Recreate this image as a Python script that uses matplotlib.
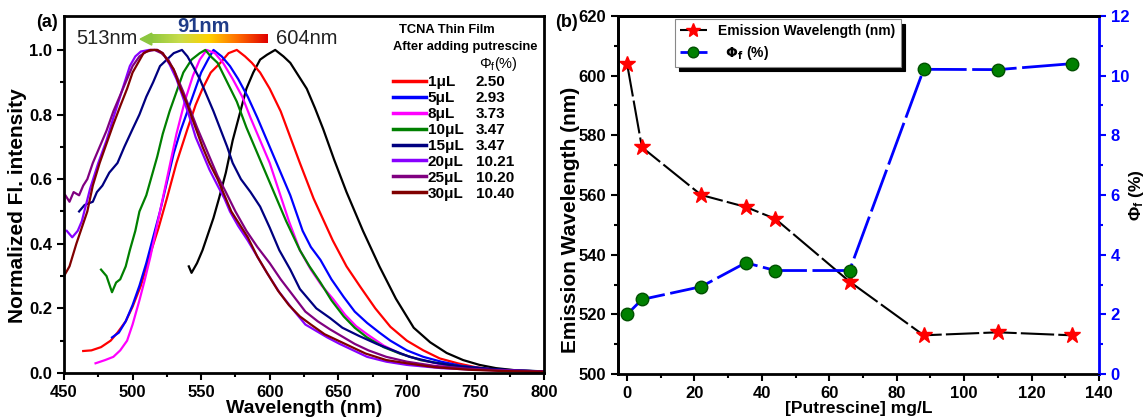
import matplotlib
matplotlib.use("Agg")
import matplotlib.pyplot as plt
import numpy as np
from matplotlib.colors import LinearSegmentedColormap
from matplotlib.lines import Line2D

plt.rcParams['font.family'] = ['Liberation Sans', 'DejaVu Sans']
plt.rcParams['font.weight'] = 'bold'
plt.rcParams['axes.labelweight'] = 'bold'
plt.rcParams['mathtext.default'] = 'regular'

# ---- panel (a): normalized spectra ----
wl_0 = [541, 543, 547, 551, 555, 559, 563, 568, 573, 578, 583, 588, 593, 598, 604, 610, 615, 621, 627, 633,
        639, 647, 656, 668, 680, 692, 705, 717, 729, 741, 753, 765, 780, 800]
fl_0 = [0.33, 0.31, 0.34, 0.38, 0.43, 0.48, 0.54, 0.62, 0.72, 0.80, 0.88, 0.93, 0.97, 0.985, 1.0, 0.98, 0.96,
        0.92, 0.88, 0.82, 0.755, 0.66, 0.56, 0.44, 0.33, 0.23, 0.14, 0.095, 0.062, 0.04, 0.025, 0.015, 0.008, 0.004]

wl_1 = [464, 470, 477, 484, 489, 495, 500, 506, 513, 519, 525, 532, 540, 546, 551, 557, 564, 570, 576, 582, 587,
        593, 600, 608, 615, 622, 632, 646, 656, 666, 677, 688, 700, 712, 724, 737, 750, 765, 780, 800]
fl_1 = [0.068, 0.07, 0.08, 0.10, 0.125, 0.16, 0.205, 0.27, 0.37, 0.45, 0.54, 0.65, 0.755, 0.83, 0.88, 0.93, 0.96,
        0.99, 1.0, 0.98, 0.96, 0.93, 0.88, 0.81, 0.73, 0.65, 0.54, 0.41, 0.33, 0.267, 0.2, 0.143, 0.10, 0.07,
        0.045, 0.03, 0.018, 0.01, 0.006, 0.004]

wl_5 = [485, 490, 495, 500, 505, 510, 515, 520, 525, 530, 535, 540, 545, 550, 555, 559, 565, 571, 577, 584, 591,
        598, 606, 615, 624, 630, 637, 645, 654, 662, 671, 680, 688, 700, 712, 725, 740, 760, 780, 800]
fl_5 = [0.11, 0.125, 0.16, 0.21, 0.27, 0.34, 0.42, 0.50, 0.59, 0.68, 0.75, 0.81, 0.87, 0.93, 0.97, 1.0, 0.98,
        0.95, 0.91, 0.855, 0.79, 0.72, 0.64, 0.55, 0.44, 0.39, 0.35, 0.29, 0.235, 0.19, 0.155, 0.125, 0.10,
        0.07, 0.05, 0.035, 0.022, 0.012, 0.007, 0.004]

wl_8 = [473, 480, 486, 491, 496, 500, 505, 509, 513, 517, 521, 526, 532, 538, 544, 549, 554, 560, 566, 573, 580,
        586, 593, 600, 607, 614, 622, 630, 638, 646, 655, 663, 671, 683, 695, 710, 730, 750, 775, 800]
fl_8 = [0.03, 0.04, 0.05, 0.07, 0.10, 0.15, 0.225, 0.29, 0.36, 0.44, 0.52, 0.62, 0.74, 0.84, 0.92, 0.97, 1.0,
        0.99, 0.96, 0.91, 0.855, 0.79, 0.72, 0.65, 0.56, 0.47, 0.38, 0.32, 0.27, 0.23, 0.18, 0.145, 0.12, 0.085,
        0.06, 0.04, 0.022, 0.012, 0.006, 0.004]

wl_10 = [477, 481, 485, 488, 491, 495, 498, 502, 505, 510, 514, 518, 522, 527, 532, 537, 543, 549, 553, 557, 562,
         569, 576, 583, 591, 597, 603, 612, 622, 629, 637, 645, 654, 662, 671, 683, 695, 710, 730, 760, 800]
fl_10 = [0.32, 0.30, 0.25, 0.28, 0.29, 0.33, 0.38, 0.44, 0.50, 0.55, 0.61, 0.67, 0.74, 0.81, 0.87, 0.93, 0.97,
         0.99, 1.0, 0.98, 0.96, 0.90, 0.84, 0.76, 0.68, 0.62, 0.56, 0.47, 0.38, 0.33, 0.28, 0.225, 0.175, 0.14,
         0.11, 0.08, 0.06, 0.04, 0.025, 0.01, 0.005]

wl_15 = [461, 465, 471, 474, 478, 483, 489, 494, 500, 505, 510, 515, 520, 525, 530, 536, 540, 544, 549, 554, 559,
         564, 569, 573, 579, 586, 593, 600, 607, 615, 622, 628, 634, 644, 653, 665, 678, 690, 702, 720, 740, 770, 800]
fl_15 = [0.50, 0.52, 0.53, 0.56, 0.58, 0.62, 0.65, 0.70, 0.755, 0.80, 0.855, 0.90, 0.95, 0.97, 0.99, 1.0, 0.98,
         0.95, 0.91, 0.86, 0.81, 0.755, 0.70, 0.65, 0.60, 0.56, 0.515, 0.45, 0.38, 0.32, 0.26, 0.23, 0.20, 0.17,
         0.14, 0.115, 0.09, 0.07, 0.05, 0.032, 0.02, 0.01, 0.005]

wl_20 = [452, 456, 460, 463, 466, 469, 475, 481, 486, 491, 495, 498, 502, 506, 512, 518, 522, 527, 532, 537, 542,
         546, 551, 556, 562, 567, 571, 577, 584, 591, 598, 607, 617, 626, 634, 642, 651, 661, 671, 685, 700, 725,
         750, 800]
fl_20 = [0.44, 0.42, 0.44, 0.47, 0.52, 0.57, 0.65, 0.72, 0.79, 0.857, 0.91, 0.95, 0.98, 0.995, 1.0, 1.0, 0.99,
         0.955, 0.91, 0.85, 0.786, 0.73, 0.68, 0.63, 0.58, 0.54, 0.50, 0.455, 0.41, 0.36, 0.31, 0.25, 0.196, 0.15,
         0.13, 0.11, 0.09, 0.07, 0.05, 0.035, 0.025, 0.015, 0.01, 0.005]

wl_25 = [451, 454, 457, 461, 464, 467, 471, 476, 481, 486, 491, 496, 500, 505, 510, 516, 521, 526, 531, 537, 542,
         547, 552, 557, 562, 568, 575, 583, 591, 600, 608, 617, 626, 635, 644, 652, 662, 672, 685, 700, 720, 745,
         770, 800]
fl_25 = [0.55, 0.53, 0.56, 0.55, 0.58, 0.60, 0.65, 0.70, 0.75, 0.81, 0.86, 0.91, 0.95, 0.98, 0.995, 1.0, 0.99,
         0.97, 0.93, 0.87, 0.815, 0.76, 0.71, 0.66, 0.61, 0.56, 0.50, 0.44, 0.39, 0.34, 0.29, 0.24, 0.19, 0.16,
         0.135, 0.115, 0.09, 0.07, 0.05, 0.035, 0.022, 0.013, 0.008, 0.005]

wl_30 = [450, 454, 459, 463, 467, 471, 476, 481, 486, 491, 496, 500, 504, 508, 513, 518, 522, 526, 530, 535, 540,
         545, 551, 556, 562, 567, 572, 578, 584, 591, 598, 606, 614, 622, 630, 640, 650, 660, 670, 685, 700, 720,
         745, 770, 800]
fl_30 = [0.30, 0.33, 0.40, 0.45, 0.50, 0.58, 0.65, 0.71, 0.77, 0.826, 0.88, 0.93, 0.96, 0.99, 1.0, 1.0, 0.99,
         0.965, 0.94, 0.88, 0.83, 0.77, 0.70, 0.65, 0.60, 0.55, 0.50, 0.46, 0.42, 0.36, 0.31, 0.255, 0.21, 0.175,
         0.15, 0.12, 0.10, 0.08, 0.06, 0.04, 0.03, 0.018, 0.01, 0.006, 0.004]

volumes = ['1', '5', '8', '10', '15', '20', '25', '30']
qy_text = ['2.50', '2.93', '3.73', '3.47', '3.47', '10.21', '10.20', '10.40']
colors = ['#ff0000', '#0000ff', '#ff00ff', '#008000', '#000080', '#8800ff', '#800080', '#800000']
spectra = [(wl_1, fl_1), (wl_5, fl_5), (wl_8, fl_8), (wl_10, fl_10), (wl_15, fl_15),
           (wl_20, fl_20), (wl_25, fl_25), (wl_30, fl_30)]

# ---- panel (b) ----
conc = [0, 4.4, 22, 35.2, 44, 66, 88, 110, 132]
em_wl = [604, 576, 560, 556, 552, 531, 513, 514, 513]
qy = [2.0, 2.50, 2.93, 3.73, 3.47, 3.47, 10.21, 10.20, 10.40]

fig = plt.figure(figsize=(11.45, 4.18), dpi=100)
ax = fig.add_axes([0.0559, 0.1077, 0.4192, 0.854])
axb = fig.add_axes([0.5397, 0.105, 0.4201, 0.857])

# panel a
ax.plot(wl_0, fl_0, color='black', lw=1.6)
handles = []
for (w, f), c, v in zip(spectra, colors, volumes):
    h, = ax.plot(w, f, color=c, lw=1.6, label=v + 'μL')
    handles.append(h)

# gradient arrow 604 -> 513
arr_cmap = LinearSegmentedColormap.from_list('arr', ['#8cc63f', '#c8dc4a', '#ffd200', '#ff6a00', '#e00000'])
ax.imshow(np.linspace(0, 1, 256).reshape(1, -1), extent=[513, 599, 1.021, 1.046],
          aspect='auto', cmap=arr_cmap, zorder=5)
ax.fill([505.5, 514, 514], [1.0335, 1.052, 1.015], color='#8cc63f', zorder=6)
ax.text(504, 1.034, '513nm', ha='right', va='center', fontsize=14.5, fontweight='normal', color='#222222')
ax.text(604.5, 1.034, '604nm', ha='left', va='center', fontsize=14.5, fontweight='normal', color='#222222')
ax.text(552, 1.072, '91nm', ha='center', va='center', fontsize=14.5, fontweight='bold', color='#1f3c88')

ax.set_xlim(450, 800)
ax.set_ylim(0, 1.105)
ax.set_xticks(np.arange(450, 801, 50))
ax.set_xticks(np.arange(475, 800, 50), minor=True)
ax.set_yticks(np.arange(0, 1.01, 0.2))
ax.set_yticks(np.arange(0.1, 1.0, 0.2), minor=True)
ax.yaxis.set_major_formatter(matplotlib.ticker.FormatStrFormatter('%.1f'))
ax.set_xlabel('Wavelength (nm)', fontsize=14, labelpad=0)
ax.set_ylabel('Normalized Fl. intensity', fontsize=15)
ax.yaxis.set_label_coords(-0.077, 0.47)

leg1 = ax.legend(handles=handles, loc='upper left', bbox_to_anchor=(0.685, 0.835), frameon=False,
                 fontsize=11, handlelength=2.2, handletextpad=0.1, labelspacing=0.13,
                 borderpad=0, borderaxespad=0)
for l in leg1.get_lines():
    l.set_linewidth(2.5)
ax.add_artist(leg1)
blank = [Line2D([], [], color='none') for _ in qy_text]
ax.legend(blank, qy_text, loc='upper left', bbox_to_anchor=(0.858, 0.835), frameon=False,
          fontsize=11, handlelength=0, handletextpad=0, labelspacing=0.13,
          borderpad=0, borderaxespad=0)
ax.text(0.697, 0.962, 'TCNA Thin Film', transform=ax.transAxes, fontsize=9.3, va='center')
ax.text(0.685, 0.913, 'After adding putrescine', transform=ax.transAxes, fontsize=9.3, va='center')
ax.text(0.865, 0.865, r'$\Phi_f$(%)', transform=ax.transAxes, fontsize=10.5, fontweight='normal', va='center')

# panel b
l1, = axb.plot(conc, em_wl, color='black', lw=1.5, dashes=(16, 2), marker='*', ms=12,
               mfc='red', mec='red', label='Emission Wavelength (nm)')
axb.set_xlim(-2.7, 140)
axb.set_ylim(500, 620)
axb.set_xticks(np.arange(0, 141, 20))
axb.set_xticks(np.arange(10, 140, 20), minor=True)
axb.set_yticks(np.arange(500, 621, 20))
axb.set_yticks(np.arange(510, 620, 20), minor=True)
axb.set_xlabel('[Putrescine] mg/L', fontsize=12.5, labelpad=0)
axb.set_ylabel('Emission Wavelength (nm)', fontsize=15)
axb.yaxis.set_label_coords(-0.079, 0.43)
axb.spines['right'].set_visible(False)

ax2 = axb.twinx()
l2, = ax2.plot(conc, qy, color='blue', lw=2, dashes=(16, 2), marker='o', ms=9,
               mfc='#008000', mec='#005000', label=r'  $\mathbf{\Phi_f}$ (%)')
ax2.set_ylim(0, 12)
ax2.set_yticks(np.arange(0, 13, 2))
ax2.set_yticks(np.arange(1, 12, 2), minor=True)
ax2.set_ylabel(r'$\Phi_f$ (%)', fontsize=12.5, rotation=90, va='center')
ax2.yaxis.set_label_coords(1.077, 0.5)
ax2.spines['right'].set_color('blue')
ax2.spines['right'].set_linewidth(2)
ax2.tick_params(axis='y', which='both', colors='blue', direction='out', width=1.5)
ax2.tick_params(axis='y', which='major', length=5, labelsize=12)
ax2.tick_params(axis='y', which='minor', length=3)
for t in ax2.get_yticklabels():
    t.set_fontweight('bold')

leg = axb.legend(handles=[l1, l2], loc='upper left', bbox_to_anchor=(0.118, 0.99), fontsize=10,
                 fancybox=False, framealpha=1, edgecolor='#888888', borderaxespad=0,
                 handlelength=2.0, borderpad=0.35, labelspacing=0.4, markerscale=0.85,
                 shadow={'color': 'black', 'alpha': 1, 'ox': 3, 'oy': -3})
leg.get_frame().set_linewidth(0.8)

for a in (ax, axb):
    for s in ('left', 'bottom', 'top'):
        a.spines[s].set_linewidth(2)
    a.tick_params(which='both', direction='out', width=1.5, labelsize=12, top=False, right=False)
    a.tick_params(which='major', length=5)
    a.tick_params(which='minor', length=3)
ax.spines['right'].set_linewidth(2)
ax2.spines['left'].set_linewidth(2)
ax2.spines['top'].set_linewidth(2)

fig.text(0.041, 0.947, '(a)', fontsize=13, ha='center', va='center')
fig.text(0.495, 0.947, '(b)', fontsize=13, ha='center', va='center')

fig.savefig('out.png', dpi=100)
